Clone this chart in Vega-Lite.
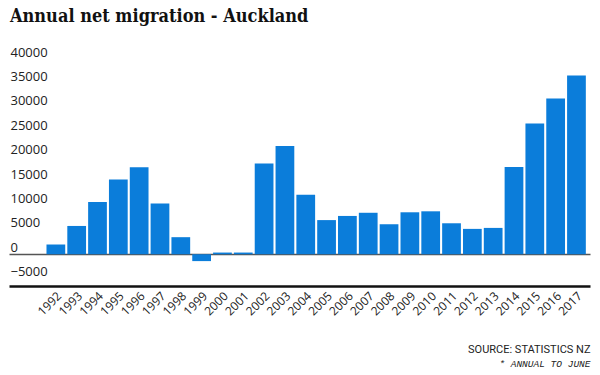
{
  "$schema": "https://vega.github.io/schema/vega-lite/v6.json",
  "width": 581,
  "height": 227,
  "padding": {"left": 9, "right": 10, "top": 8, "bottom": 0},
  "autosize": {"type": "pad"},
  "title": {"text": "Annual net migration - Auckland", "anchor": "start", "frame": "group", "font": "DejaVu Serif Condensed, Liberation Serif", "fontWeight": "bold", "fontSize": 18, "color": "#111111", "offset": 20, "dx": 1},
  "config": {"view": {"stroke": null}, "font": "Open Sans"},
  "data": {"values": [
    {"year": "1992", "value": 2000},
    {"year": "1993", "value": 5800},
    {"year": "1994", "value": 10700},
    {"year": "1995", "value": 15300},
    {"year": "1996", "value": 17800},
    {"year": "1997", "value": 10400},
    {"year": "1998", "value": 3500},
    {"year": "1999", "value": -1400},
    {"year": "2000", "value": 350},
    {"year": "2001", "value": 350},
    {"year": "2002", "value": 18600},
    {"year": "2003", "value": 22200},
    {"year": "2004", "value": 12200},
    {"year": "2005", "value": 7000},
    {"year": "2006", "value": 7850},
    {"year": "2007", "value": 8500},
    {"year": "2008", "value": 6150},
    {"year": "2009", "value": 8600},
    {"year": "2010", "value": 8800},
    {"year": "2011", "value": 6350},
    {"year": "2012", "value": 5200},
    {"year": "2013", "value": 5400},
    {"year": "2014", "value": 17900},
    {"year": "2015", "value": 26800},
    {"year": "2016", "value": 31900},
    {"year": "2017", "value": 36600}
  ]},
  "mark": {"type": "bar", "color": "#0b7dda"},
  "encoding": {
    "x": {
      "field": "year", "type": "ordinal",
      "scale": {"paddingInner": 0.1, "paddingOuter": 1.15, "align": 0.9},
      "axis": {
        "title": "SOURCE: STATISTICS NZ",
        "titleFont": "Roboto", "titleFontSize": 11, "titleFontWeight": "normal", "titleColor": "#222222",
        "titleAlign": "right", "titleBaseline": "middle", "titleAnchor": null, "titleX": 581, "titleY": 63,
        "labelAngle": -45, "labelFontSize": 12, "labelColor": "#222222", "labelPadding": 4, "labelOverlap": false,
        "ticks": false, "domainColor": "#111111", "domainWidth": 2.5
      }
    },
    "y": {
      "field": "value", "type": "quantitative",
      "scale": {"domain": [-6500, 40000], "nice": false},
      "axis": {
        "values": [-5000, 0, 5000, 10000, 15000, 20000, 25000, 30000, 35000, 40000],
        "format": "d", "labelOverlap": false,
        "grid": true,
        "gridColor": {"condition": {"test": "datum.value === 0", "value": "#555555"}, "value": "transparent"},
        "gridWidth": 1.5,
        "domain": false, "ticks": false,
        "labelAlign": "left", "labelBaseline": "bottom", "labelPadding": -1,
        "labelFontSize": 13, "labelColor": "#222222",
        "title": "* ANNUAL TO JUNE",
        "titleAngle": 0, "titleX": 581, "titleY": 304, "titleAlign": "right", "titleBaseline": "middle",
        "titleFont": "Liberation Mono", "titleFontStyle": "italic", "titleFontSize": 9.5, "titleFontWeight": "normal", "titleColor": "#222222"
      }
    }
  }
}
